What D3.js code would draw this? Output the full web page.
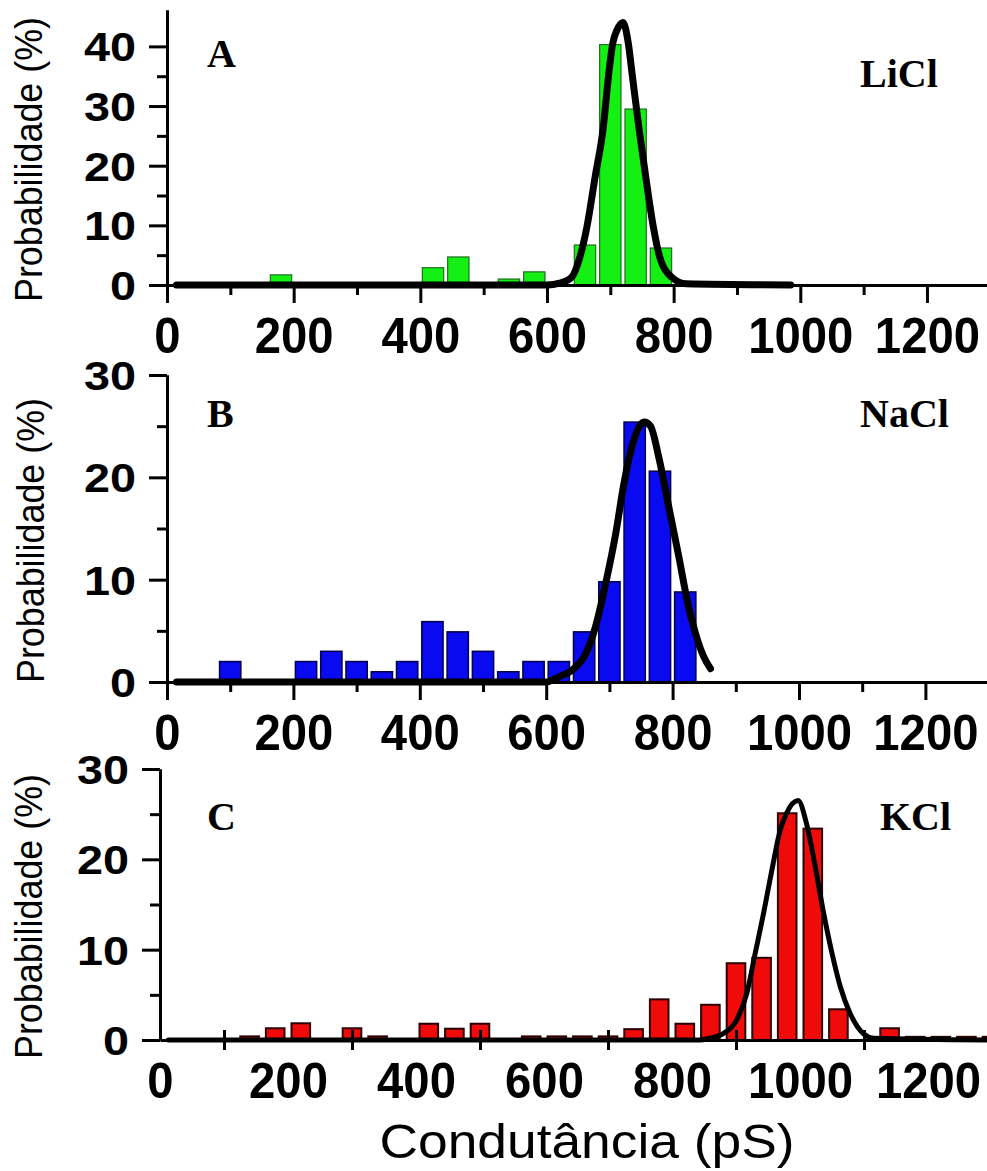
<!DOCTYPE html>
<html lang="pt">
<head>
  <meta charset="UTF-8">
  <title>Histogramas de condutância</title>
  <style>
  body {
  margin: 0;
  background: #fff;
}

#chart {
  display: block;
  background: #fff;
}

.axis path,
.axis line {
  stroke: #000;
  stroke-width: 3;
}

.tick-label {
  font-family: "Liberation Sans", Arial, sans-serif;
  font-weight: bold;
  fill: #000;
}

.panel-label {
  font-family: "Liberation Serif", "Times New Roman", serif;
  font-weight: bold;
  font-size: 40px;
  fill: #000;
}

.axis-title {
  font-family: "Liberation Sans", Arial, sans-serif;
  fill: #000;
}

.fit {
  fill: none;
  stroke: #000;
  stroke-linejoin: round;
  stroke-linecap: round;
}
  </style>
</head>
<body>
<svg id="chart"></svg>
<script src="https://d3js.org/d3.v7.min.js"></script>
<script>
// histogram bin width (pS)
const binWidth = 40;

// shared tick values
const xTickLabels = [0, 200, 400, 600, 800, 1000, 1200];
const xMinorTicks = [100, 300, 500, 700, 900, 1100];
const yTicksA = [0, 10, 20, 30, 40];
const yMinorA = [5, 15, 25, 35];
const yTicksBC = [0, 10, 20, 30];
const yMinorBC = [5, 15, 25];

// A - LiCl: bin start (pS) and probability (%)
const liclBins = [160, 400, 440, 520, 560, 640, 680, 720, 760];
const liclProb = [1.7, 2.9, 4.7, 1.0, 2.2, 6.7, 40.3, 29.5, 6.2];
// gaussian fit, points
const liclFitX = [15, 600, 620, 639, 652, 663, 676, 689, 697, 704, 710, 720, 728, 735, 745, 756, 768, 778, 797, 820, 985];
const liclFitY = [0, 0, 0.3, 1.3, 4.7, 9.7, 18.1, 26.5, 34.9, 40.6, 42.6, 44.0, 40.8, 34.9, 26.5, 18.1, 9.7, 4.7, 1.3, 0.2, 0];

// B - NaCl
const naclBins = [80, 200, 240, 280, 320, 360, 400, 440, 480, 520, 560, 600, 640, 680, 720, 760, 800];
const naclProb = [2.0, 2.0, 3.0, 2.0, 1.0, 2.0, 5.9, 4.9, 3.0, 1.0, 2.0, 2.0, 4.9, 9.8, 25.4, 20.6, 8.8];
const naclFitX = [15, 600, 620, 642, 663, 678, 694, 710, 723, 737, 755, 765, 778, 794, 810, 823, 836, 849, 860];
const naclFitY = [0, 0, 0.5, 1.2, 2.8, 5.4, 9.6, 14.5, 19.4, 23.3, 25.4, 25.0, 22.0, 17.1, 12.2, 8.0, 4.8, 2.5, 1.3];

// C - KCl
const kclBins = [120, 160, 200, 280, 320, 400, 440, 480, 560, 600, 640, 680, 720, 760, 800, 840, 880, 920, 960, 1000, 1040, 1120, 1160, 1200, 1240, 1280];
const kclProb = [0.4, 1.3, 1.85, 1.3, 0.4, 1.8, 1.25, 1.8, 0.4, 0.4, 0.4, 0.4, 1.2, 4.5, 1.8, 3.9, 8.5, 9.1, 25.1, 23.4, 3.4, 1.3, 0.35, 0.35, 0.35, 0.35];
const kclFitX = [13, 840, 859, 880, 901, 917, 930, 943, 956, 969, 979, 997, 1010, 1023, 1036, 1050, 1063, 1078, 1099, 1115, 1300];
const kclFitY = [0, 0, 0.2, 0.7, 2.2, 5.2, 9.6, 14.0, 18.8, 23.2, 25.1, 26.5, 24.0, 19.5, 14.4, 9.6, 5.9, 3.0, 0.7, 0.2, 0];

const width = 987;
const height = 1171;

const svg = d3.select("#chart")
  .attr("width", width)
  .attr("height", height);

// panel layout (pixel positions of the three plots)
const panels = [
  {
    letter: "A", salt: "LiCl", saltX: 860, letterY: 67, saltY: 87,
    bins: liclBins, prob: liclProb, fitX: liclFitX, fitY: liclFitY,
    left: 167, pxPerPs: 0.6333, base: 285, top: 10, yMax: 46.1,
    yTicks: yTicksA, yMinor: yMinorA,
    fill: "#14f014", stroke: "#1f6e1f", barStroke: 1.2, gap: 4, fitWidth: 7,
    crossTicks: false, labelPad: 14, titleX: 42
  },
  {
    letter: "B", salt: "NaCl", saltX: 860, letterY: 427, saltY: 427,
    bins: naclBins, prob: naclProb, fitX: naclFitX, fitY: naclFitY,
    left: 167, pxPerPs: 0.632, base: 682, top: 375, yMax: 30,
    yTicks: yTicksBC, yMinor: yMinorBC,
    fill: "#0a0af0", stroke: "#00004a", barStroke: 1.5, gap: 4, fitWidth: 7,
    crossTicks: false, labelPad: 14, titleX: 44
  },
  {
    letter: "C", salt: "KCl", saltX: 880, letterY: 830, saltY: 830,
    bins: kclBins, prob: kclProb, fitX: kclFitX, fitY: kclFitY,
    left: 160, pxPerPs: 0.64, base: 1040, top: 769, yMax: 30,
    yTicks: yTicksBC, yMinor: yMinorBC,
    fill: "#f00a0a", stroke: "#2b0000", barStroke: 2, gap: 7, fitWidth: 5,
    crossTicks: true, labelPad: 22.5, titleX: 42
  }
];

const fmt = d3.format("d");

panels.forEach(p => {
  const x = d3.scaleLinear().domain([0, 1300]).range([p.left, p.left + 1300 * p.pxPerPs]);
  const y = d3.scaleLinear().domain([0, p.yMax]).range([p.base, p.top]);
  const g = svg.append("g");

  // bars
  g.selectAll(".bar")
    .data(p.bins.map((b, i) => ({ b: b, v: p.prob[i] })))
    .join("rect")
    .attr("class", "bar")
    .attr("x", d => x(d.b) + p.gap / 2)
    .attr("width", d => x(d.b + binWidth) - x(d.b) - p.gap)
    .attr("y", d => y(d.v))
    .attr("height", d => y(0) - y(d.v))
    .attr("fill", p.fill)
    .attr("stroke", p.stroke)
    .attr("stroke-width", p.barStroke);

  // fit curve
  const line = d3.line()
    .x(d => x(d[0]))
    .y(d => y(d[1]))
    .curve(d3.curveMonotoneX);

  g.append("path")
    .datum(p.fitX.map((v, i) => [v, p.fitY[i]]))
    .attr("class", "fit")
    .attr("stroke-width", p.fitWidth)
    .attr("d", line);

  // x axis
  if (!p.crossTicks) {
    g.append("g")
      .attr("class", "axis")
      .attr("transform", `translate(0,${p.base})`)
      .call(d3.axisBottom(x).tickValues(xMinorTicks).tickSize(10).tickSizeOuter(0).tickFormat(""));
    g.append("g")
      .attr("class", "axis x-labels")
      .attr("transform", `translate(0,${p.base})`)
      .call(d3.axisBottom(x).tickValues(xTickLabels).tickSize(18).tickSizeOuter(0).tickPadding(p.labelPad).tickFormat(fmt));
  } else {
    // KCl panel: ticks cross the axis at the odd hundreds, labels without ticks
    g.append("g")
      .attr("class", "axis")
      .attr("transform", `translate(0,${p.base - 10})`)
      .call(d3.axisBottom(x).tickValues(xMinorTicks).tickSize(20).tickFormat(""))
      .call(a => a.select(".domain").remove());
    g.append("g")
      .attr("class", "axis x-labels")
      .attr("transform", `translate(0,${p.base})`)
      .call(d3.axisBottom(x).tickValues(xTickLabels).tickSize(0).tickSizeOuter(0).tickPadding(p.labelPad).tickFormat(fmt));
  }

  g.selectAll(".x-labels text")
    .attr("class", "tick-label")
    .style("font-size", "50px")
    .attr("textLength", d => 26.3 * fmt(d).length)
    .attr("lengthAdjust", "spacingAndGlyphs");

  // y axis
  g.append("g")
    .attr("class", "axis")
    .attr("transform", `translate(${x(0)},0)`)
    .call(d3.axisLeft(y).tickValues(p.yMinor).tickSize(10).tickSizeOuter(0).tickFormat(""));
  g.append("g")
    .attr("class", "axis y-labels")
    .attr("transform", `translate(${x(0)},0)`)
    .call(d3.axisLeft(y).tickValues(p.yTicks).tickSize(18).tickSizeOuter(0).tickPadding(13).tickFormat(fmt));

  g.selectAll(".y-labels text")
    .attr("class", "tick-label")
    .style("font-size", "40px")
    .attr("dy", "0.36em")
    .attr("textLength", d => 26 * fmt(d).length)
    .attr("lengthAdjust", "spacingAndGlyphs");

  // y title
  g.append("text")
    .attr("class", "axis-title")
    .attr("transform", `translate(${p.titleX},${(p.base + p.top) / 2 + 12}) rotate(-90)`)
    .attr("text-anchor", "middle")
    .style("font-size", "38px")
    .attr("textLength", 285)
    .attr("lengthAdjust", "spacingAndGlyphs")
    .text("Probabilidade (%)");

  // panel letter and salt
  g.append("text")
    .attr("class", "panel-label")
    .attr("x", 207)
    .attr("y", p.letterY)
    .text(p.letter);

  g.append("text")
    .attr("class", "panel-label")
    .attr("x", p.saltX)
    .attr("y", p.saltY)
    .text(p.salt);
});

// x title
svg.append("text")
  .attr("class", "axis-title")
  .attr("x", 587)
  .attr("y", 1158)
  .attr("text-anchor", "middle")
  .style("font-size", "48px")
  .attr("textLength", 415)
  .attr("lengthAdjust", "spacingAndGlyphs")
  .text("Condutância (pS)");
</script>
</body>
</html>
